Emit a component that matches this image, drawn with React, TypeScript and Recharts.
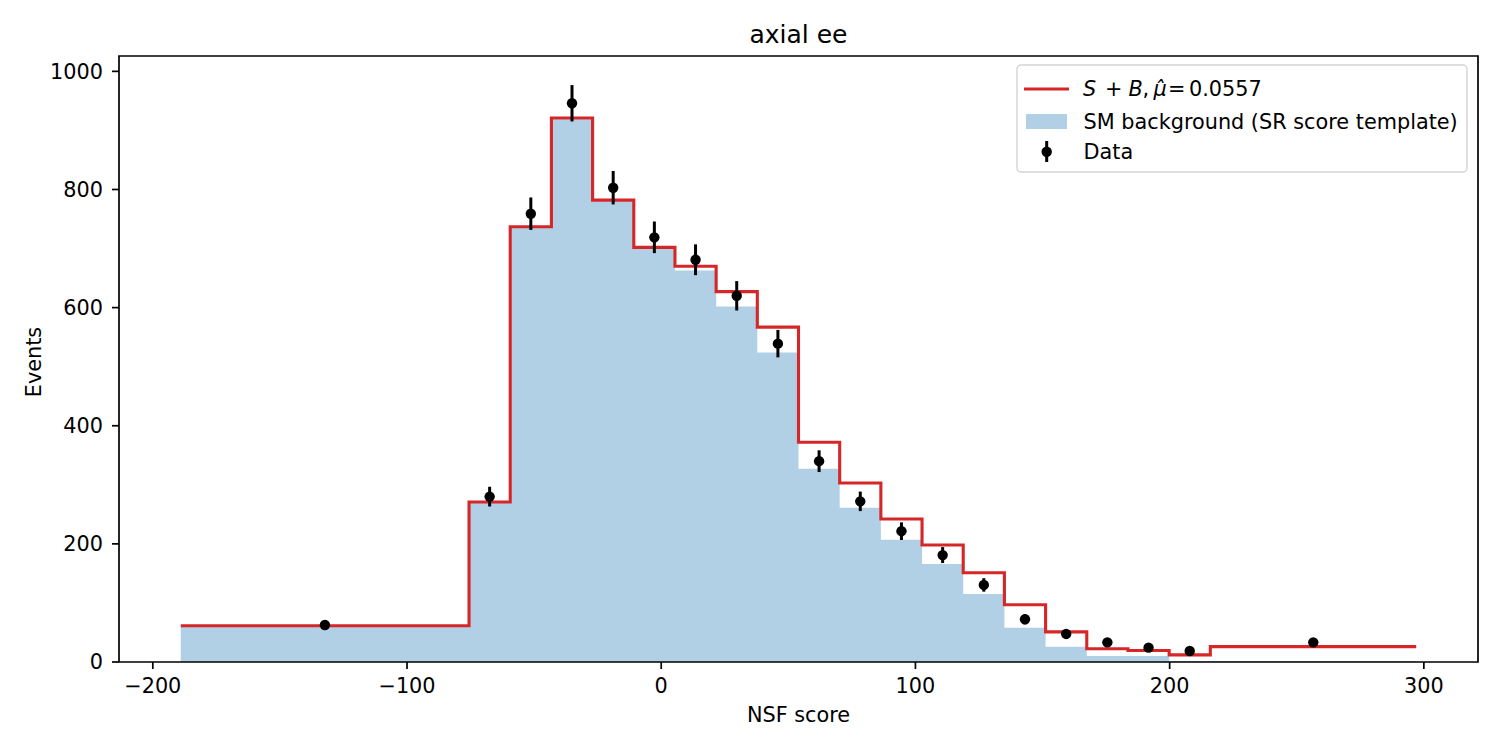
import React from "react";
import {
  ComposedChart,
  Area,
  Line,
  Scatter,
  ErrorBar,
  XAxis,
  YAxis,
  ReferenceArea,
  Legend,
} from "recharts";

const FONT = '"DejaVu Sans", sans-serif';

// histogram bin edges (NSF score)
const binEdges = [
  -189, -75.6, -59.4, -43.2, -27, -10.8, 5.4, 21.6, 37.8, 54, 70.2, 86.4,
  102.6, 118.8, 135, 151.2, 167.4, 183.6, 199.8, 216, 297,
];

// SM background template, one value per bin
const smBackground = [
  60, 270, 735, 919, 780, 700, 663, 602, 524, 327, 261, 207, 166, 115, 58, 26,
  10, 10, 1.5, 1.5,
];

// S+B fit, one value per bin
const splusB = [
  61.5, 271, 737, 921, 782, 702, 670, 627, 567, 372, 303, 242, 198, 151, 97,
  51, 22.5, 19.5, 12, 26,
];

// observed data at bin centres
const dataX = [
  -132.3, -67.5, -51.3, -35.1, -18.9, -2.7, 13.5, 29.7, 45.9, 62.1, 78.3, 94.5,
  110.7, 126.9, 143.1, 159.3, 175.5, 191.7, 207.9, 256.5,
];
const dataY = [
  62.7, 280, 759, 946, 803, 719, 681, 620, 539, 340, 272, 221.5, 181, 130.5,
  72.3, 47.5, 33.3, 24.3, 18.6, 33.3,
];
const dataErr = [
  7.9, 16.7, 27.5, 30.8, 28.3, 26.8, 26.1, 24.9, 23.2, 18.4, 16.5, 14.9, 13.5,
  11.4, 8.5, 6.9, 5.8, 4.9, 4.3, 5.8,
];

const xTicks = [-200, -100, 0, 100, 200, 300];
const yTicks = [0, 200, 400, 600, 800, 1000];

const X_DOMAIN: [number, number] = [-213.3, 321.3];
const Y_DOMAIN: [number, number] = [0, 1026];

const last = splusB.length - 1;
const histRows = binEdges.map((x, i) => ({
  x,
  bkg: smBackground[Math.min(i, last)],
  sb: splusB[Math.min(i, last)],
}));

const pointRows = dataX.map((x, i) => ({ x, data: dataY[i], err: dataErr[i] }));

const fmt = (v: number) => (v < 0 ? "\u2212" + Math.abs(v) : String(v));

const tickStyle = { fill: "#000", fontSize: 20.8, fontFamily: FONT };

function LegendBox() {
  const txt = { fontFamily: FONT, fontSize: 20.8, fill: "#000" };
  return (
    <svg width={454} height={110} style={{ display: "block" }}>
      <rect
        x={1}
        y={1}
        width={450}
        height={107}
        rx={4}
        fill="#fff"
        fillOpacity={0.8}
        stroke="#d4d4d4"
        strokeWidth={1.4}
      />
      <line x1={8} x2={53} y1={25} y2={25} stroke="#d62728" strokeWidth={3.1} />
      <text {...txt} y={31.7}>
        <tspan x={67} fontStyle="italic">S</tspan>
        <tspan x={89}>+</tspan>
        <tspan x={112.5} fontStyle="italic">B</tspan>
        <tspan x={126.5}>,</tspan>
        <tspan x={137.5} fontStyle="italic">{"\u03bc\u0302"}</tspan>
        <tspan x={152}>=</tspan>
        <tspan x={173}>0.0557</tspan>
      </text>
      <rect x={10} y={50} width={41} height={15} fill="#1f77b4" fillOpacity={0.35} />
      <text {...txt} x={67.5} y={65.3}>
        SM background (SR score template)
      </text>
      <line x1={30.7} x2={30.7} y1={77} y2={98} stroke="#000" strokeWidth={3} />
      <circle cx={30.7} cy={87.7} r={5.2} fill="#000" />
      <text {...txt} x={67.5} y={95.3}>
        Data
      </text>
    </svg>
  );
}

export default function App() {
  return (
    <div
      style={{
        position: "absolute",
        left: 0,
        top: 0,
        width: 1500,
        height: 750,
        background: "#fff",
      }}
    >
      <svg
        width={1500}
        height={56}
        style={{ position: "absolute", left: 0, top: 0, pointerEvents: "none" }}
      >
        <text
          x={798.5}
          y={43}
          textAnchor="middle"
          fontFamily={FONT}
          fontSize={25}
          fill="#000"
        >
          axial ee
        </text>
      </svg>
      <ComposedChart
        width={1500}
        height={750}
        data={histRows}
        margin={{ top: 56, right: 22, bottom: 0, left: 0 }}
      >
        <XAxis
          dataKey="x"
          type="number"
          domain={X_DOMAIN}
          allowDataOverflow
          ticks={xTicks}
          interval={0}
          tickFormatter={fmt}
          height={88}
          axisLine={false}
          tickLine={{ stroke: "#000", strokeWidth: 1.7 }}
          tickSize={7}
          tickMargin={9}
          tick={tickStyle}
          label={{
            value: "NSF score",
            position: "insideBottom",
            offset: 28,
            fill: "#000",
            fontSize: 20.8,
            fontFamily: FONT,
          }}
        />
        <YAxis
          type="number"
          domain={Y_DOMAIN}
          allowDataOverflow
          ticks={yTicks}
          interval={0}
          width={119}
          axisLine={false}
          tickLine={{ stroke: "#000", strokeWidth: 1.7 }}
          tickSize={7}
          tickMargin={9}
          tick={tickStyle}
          label={{
            value: "Events",
            angle: -90,
            position: "center",
            dx: -26,
            dy: 3,
            fill: "#000",
            fontSize: 20.8,
            fontFamily: FONT,
          }}
        />
        <Area
          type="stepAfter"
          dataKey="bkg"
          stroke="none"
          fill="#1f77b4"
          fillOpacity={0.35}
          isAnimationActive={false}
        />
        <Line
          type="stepAfter"
          dataKey="sb"
          stroke="#d62728"
          strokeWidth={3.1}
          dot={false}
          activeDot={false}
          isAnimationActive={false}
        />
        <Scatter
          data={pointRows}
          dataKey="data"
          fill="#000"
          isAnimationActive={false}
          shape={(p: any) => <circle cx={p.cx} cy={p.cy} r={5.2} fill="#000" />}
        >
          <ErrorBar dataKey="err" direction="y" width={0} stroke="#000" strokeWidth={3} />
        </Scatter>
        <ReferenceArea
          x1={X_DOMAIN[0]}
          x2={X_DOMAIN[1]}
          y1={Y_DOMAIN[0]}
          y2={Y_DOMAIN[1]}
          fill="none"
          fillOpacity={0}
          stroke="#000"
          strokeWidth={1.7}
        />
        <Legend
          layout="horizontal"
          verticalAlign="middle"
          align="center"
          wrapperStyle={{ left: 1016, top: 64, width: 454, height: 110 }}
          content={() => <LegendBox />}
        />
      </ComposedChart>
    </div>
  );
}
